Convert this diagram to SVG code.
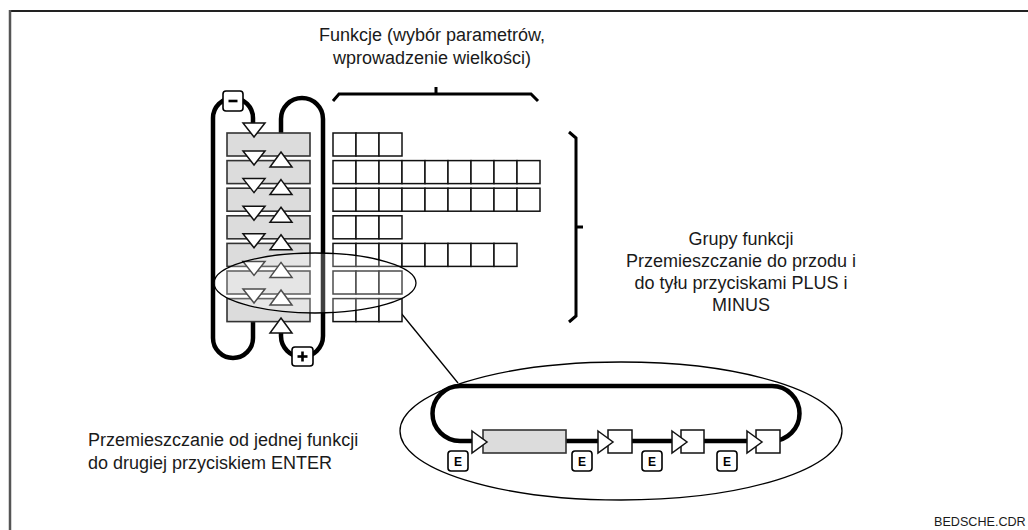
<svg xmlns="http://www.w3.org/2000/svg" width="1028" height="530" viewBox="0 0 1028 530">
<style>
.txt{font-family:"Liberation Sans",Arial,sans-serif;font-size:18px;fill:#1a1a1a}
.small{font-family:"Liberation Sans",Arial,sans-serif;font-size:12.6px;fill:#1a1a1a}
.ebtn{font-family:"Liberation Sans",Arial,sans-serif;font-size:12px;font-weight:bold;fill:#000}
.gbox{fill:#dcdcdc;stroke:#333;stroke-width:1.6}
.cell{fill:#fff;stroke:#111;stroke-width:1.5}
.tri{fill:#fff;stroke:#111;stroke-width:1.5;stroke-linejoin:miter}
.loop{fill:none;stroke:#000;stroke-width:4.5;stroke-linecap:butt}
.brace{fill:none;stroke:#000;stroke-width:3;stroke-linejoin:miter}
.btn{fill:#fff;stroke:#000;stroke-width:1.6}
.thin{fill:none;stroke:#000;stroke-width:1.3}
</style>
<defs>
<g id="cells3">
<rect class="cell" x="0" y="0" width="23" height="23"/>
<rect class="cell" x="23" y="0" width="23" height="23"/>
<rect class="cell" x="46" y="0" width="23" height="23"/>
</g>
<g id="cells8">
<use href="#cells3"/>
<use href="#cells3" x="69"/>
<rect class="cell" x="138" y="0" width="23" height="23"/>
<rect class="cell" x="161" y="0" width="23" height="23"/>
</g>
<g id="cells9">
<use href="#cells8"/>
<rect class="cell" x="184" y="0" width="23" height="23"/>
</g>
<polygon id="tdown" class="tri" points="0,0 22,0 11,14"/>
<polygon id="tup" class="tri" points="11,0 22,15 0,15"/>
<polygon id="tright" class="tri" points="0,0 15,11 0,22"/>
<g id="ebutton">
<rect class="btn" x="0" y="0" width="20" height="20" rx="3"/>
<text class="ebtn" x="10" y="14.5" text-anchor="middle">E</text>
</g>
</defs>

<g id="frame">
<line x1="9" y1="11" x2="1028" y2="11" stroke="#222" stroke-width="1.8"/>
<line x1="10" y1="10" x2="10" y2="530" stroke="#555" stroke-width="2.5"/>
</g>

<g id="labels">
<text class="txt" x="432" y="41" text-anchor="middle">Funkcje (wybór parametrów,</text>
<text class="txt" x="432" y="64" text-anchor="middle">wprowadzenie wielkości)</text>
<text class="txt" x="741" y="245" text-anchor="middle">Grupy funkcji</text>
<text class="txt" x="741" y="267" text-anchor="middle">Przemieszczanie do przodu i</text>
<text class="txt" x="741" y="289" text-anchor="middle">do tyłu przyciskami PLUS i</text>
<text class="txt" x="741" y="311" text-anchor="middle">MINUS</text>
<text class="txt" x="88" y="446">Przemieszczanie od jednej funkcji</text>
<text class="txt" x="88" y="469">do drugiej przyciskiem ENTER</text>
<text class="small" x="934" y="526">BEDSCHE.CDR</text>
</g>

<g id="braces">
<path class="brace" d="M333 101 L339 94 L531 94 L538 101"/>
<line class="brace" x1="436" y1="87" x2="436" y2="94"/>
<path class="brace" d="M569 132 L576 138 L576 316 L569 322"/>
<line class="brace" x1="576" y1="227" x2="583" y2="227"/>
</g>

<g id="connectors">
<path class="loop" d="M253 123 L253 118 A20 20 0 0 0 213 118 L213 338 A20 20 0 0 0 253 338 L253 322"/>
<path class="loop" d="M281 333 L281 336 A21 21 0 0 0 323 336 L323 119 A21 21 0 0 0 281 119 L281 133"/>
<line class="thin" x1="392" y1="302" x2="458" y2="383"/>
</g>

<g id="function-groups">
<rect class="gbox" x="227" y="133" width="83" height="23"/>
<rect class="gbox" x="227" y="160.6" width="83" height="23"/>
<rect class="gbox" x="227" y="188.2" width="83" height="23"/>
<rect class="gbox" x="227" y="215.8" width="83" height="23"/>
<rect class="gbox" x="227" y="243.4" width="83" height="23"/>
<rect class="gbox" x="227" y="271" width="83" height="23"/>
<rect class="gbox" x="227" y="298.6" width="83" height="23"/>
</g>

<g id="arrows">
<use href="#tdown" x="243" y="123"/>
<use href="#tdown" x="243" y="151"/>
<use href="#tdown" x="243" y="178.6"/>
<use href="#tdown" x="243" y="206.2"/>
<use href="#tdown" x="243" y="233.8"/>
<use href="#tdown" x="243" y="261.4"/>
<use href="#tdown" x="243" y="289"/>
<use href="#tup" x="270" y="152"/>
<use href="#tup" x="270" y="179.6"/>
<use href="#tup" x="270" y="207.2"/>
<use href="#tup" x="270" y="234.8"/>
<use href="#tup" x="270" y="262.4"/>
<use href="#tup" x="270" y="290"/>
<use href="#tup" x="270" y="318"/>
</g>

<g id="minus-button">
<rect class="btn" x="223" y="91" width="20" height="20" rx="3"/>
<line x1="228.5" y1="101" x2="237.5" y2="101" stroke="#000" stroke-width="2.6"/>
</g>
<g id="plus-button">
<rect class="btn" x="292" y="347" width="21" height="19" rx="3"/>
<line x1="297.5" y1="356.5" x2="307.5" y2="356.5" stroke="#000" stroke-width="2.6"/>
<line x1="302.5" y1="351.5" x2="302.5" y2="361.5" stroke="#000" stroke-width="2.6"/>
</g>

<g id="functions">
<use href="#cells3" x="333" y="133"/>
<use href="#cells9" x="333" y="160.6"/>
<use href="#cells9" x="333" y="188.2"/>
<use href="#cells3" x="333" y="215.8"/>
<use href="#cells8" x="333" y="243.4"/>
<use href="#cells3" x="333" y="271"/>
<use href="#cells3" x="333" y="298.6"/>
</g>

<g id="selection-ellipse">
<ellipse cx="315" cy="283" rx="101" ry="30" fill="#fff" fill-opacity="0.25" stroke="#000" stroke-width="1.3"/>
</g>

<g id="detail">
<ellipse cx="621" cy="431" rx="221" ry="69" fill="none" stroke="#000" stroke-width="1.3"/>
<path class="loop" d="M472 441 L460 441 A27.5 27.5 0 0 1 460 386 L772 386 A27.5 27.5 0 0 1 772 441 L460 441"/>
<rect class="gbox" x="483" y="430" width="83" height="23"/>
<use href="#tright" x="472" y="431"/>
<rect class="cell" x="608" y="430" width="24" height="23"/>
<use href="#tright" x="598" y="431"/>
<rect class="cell" x="681" y="430" width="23" height="23"/>
<use href="#tright" x="672" y="431"/>
<rect class="cell" x="756" y="430" width="24" height="23"/>
<use href="#tright" x="747" y="431"/>
<use href="#ebutton" x="448" y="451"/>
<use href="#ebutton" x="572" y="451"/>
<use href="#ebutton" x="642" y="451"/>
<use href="#ebutton" x="717" y="451"/>
</g>
</svg>
